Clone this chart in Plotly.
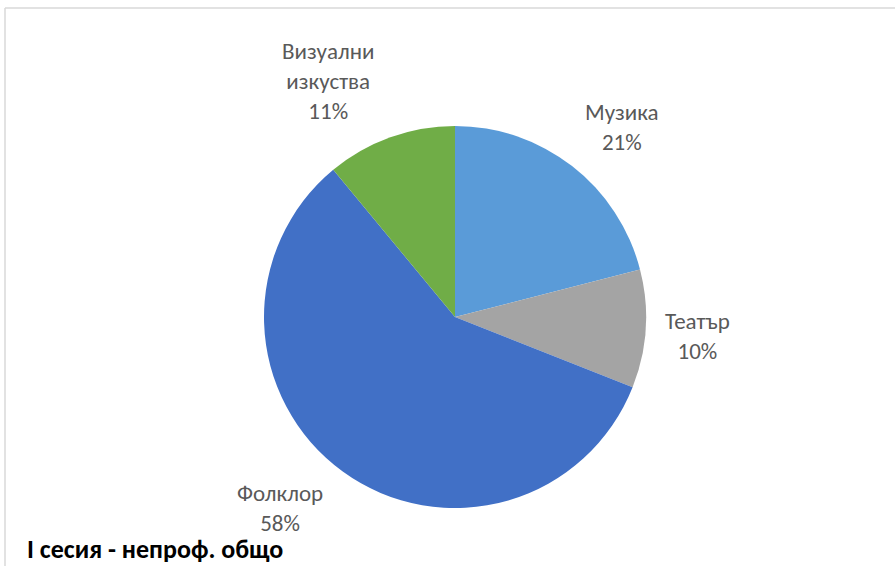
import math
import plotly.graph_objects as go

categories = ["Музика", "Театър", "Фолклор", "Визуални<br>изкуства"]
values = [21, 10, 58, 11]
colors = ["#5a9bd8", "#a4a4a4", "#4170c6", "#70ad47"]
title_text = "I сесия - непроф. общо"

W, H = 895, 566
cx, cy, r = 455, 317, 191
FONT = "Calibri, Carlito, 'Open Sans', sans-serif"

fig = go.Figure(go.Pie(
    labels=categories,
    values=values,
    sort=False,
    direction="clockwise",
    rotation=0,
    marker=dict(colors=colors, line=dict(color="white", width=0)),
    textinfo="none",
    hoverinfo="label+percent",
    domain=dict(x=[(cx - r) / W, (cx + r) / W], y=[(H - cy - r) / H, (H - cy + r) / H]),
    showlegend=False,
))

total = sum(values)
cum = 0
annotations = []
for lab, v in zip(categories, values):
    mid = (cum + v / 2) / total * 2 * math.pi
    cum += v
    s, c = math.sin(mid), math.cos(mid)
    d = r * 1.09
    x = cx + d * s
    y = cy - d * c
    xanchor = "left" if s > 0.1 else ("right" if s < -0.1 else "center")
    yanchor = "bottom" if c > 0.3 else ("top" if c < -0.3 else "middle")
    pct = round(v / total * 100)
    annotations.append(dict(
        x=x / W, y=1 - y / H, xref="paper", yref="paper",
        text=f"{lab}<br>{pct}%", showarrow=False,
        font=dict(family=FONT, size=23, color="#595959"),
        align="center", xanchor=xanchor, yanchor=yanchor,
        yshift=8 if yanchor == "top" else -6,
        xshift=-8 if xanchor == "right" else 0,
    ))

annotations.append(dict(
    x=26 / W, y=0, xref="paper", yref="paper",
    text=f"<b>{title_text}</b>", showarrow=False,
    font=dict(family=FONT, size=26, color="#000000"),
    xanchor="left", yanchor="bottom", borderpad=0,
))

shapes = [
    dict(type="line", xref="paper", yref="paper", x0=5 / W, x1=1, y0=1 - 8 / H, y1=1 - 8 / H,
         line=dict(color="#d9d9d9", width=1.5)),
    dict(type="line", xref="paper", yref="paper", x0=5 / W, x1=5 / W, y0=0, y1=1 - 8 / H,
         line=dict(color="#d9d9d9", width=1.5)),
]

fig.update_layout(
    width=W, height=H,
    margin=dict(l=0, r=0, t=0, b=0),
    paper_bgcolor="white", plot_bgcolor="white",
    annotations=annotations, shapes=shapes,
)
fig.write_html(
    "out.html",
    config={"displayModeBar": False},
    post_script="document.body.style.margin='0';document.body.style.overflow='hidden';",
)
